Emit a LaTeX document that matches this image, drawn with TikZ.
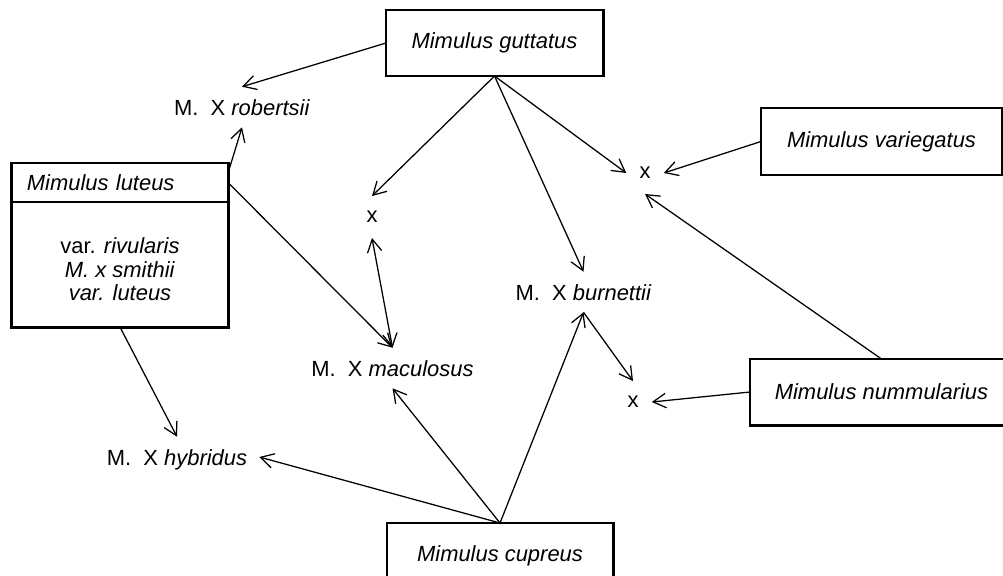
\documentclass[tikz,border=0pt]{standalone}
\usepackage{fontspec}
\setmainfont{Liberation Sans}
\usetikzlibrary{positioning,arrows.meta}

\begin{document}
\begin{tikzpicture}[x=0.025cm, y=-0.025cm, auto,
                    font=\fontsize{15.6}{16.7}\selectfont,
                    laji/.style={draw, rectangle, line width=2.1pt, inner sep=0pt, outer sep=0pt},
                    hybridi/.style={inner xsep=0.3cm, inner ysep=0.3cm, text height=0.4cm, text depth=0pt},
                    risti/.style={inner xsep=0.325cm, inner ysep=0.375cm, text height=0.285cm, text depth=0pt},
                    karki/.tip={Straight Barb[length=3.2mm,width=3.6mm]},
                    nuoli/.style={line width=0.9pt, -karki}]

\clip (0,0) rectangle (1003,575);

\node[laji, minimum width=5.425cm, minimum height=1.65cm] (gut) at (494.5,43) {\textit{Mimulus guttatus}};
\node[laji, minimum width=6.025cm, minimum height=1.675cm] (var) at (881.5,141.5) {\textit{Mimulus variegatus}};
\node[laji, minimum width=6.575cm, minimum height=1.65cm] (num) at (881.5,392) {\textit{Mimulus nummularius}};
\node[laji, minimum width=5.65cm, minimum height=1.65cm] (cup) at (500,556) {\textit{Mimulus cupreus}};
\node[laji, minimum width=5.4cm, minimum height=0.975cm, text width=4.65cm, align=left] (lutT) at (120,182.5) {\textit{Mimulus luteus}};
\node[laji, minimum width=5.4cm, minimum height=3.125cm, align=center] (lutB) [below=0pt of lutT]
      {\rule{0pt}{0.65cm}var. \textit{rivularis}\\ \textit{M. x smithii}\\ \textit{var. luteus}};

\node[hybridi] (rob) at (242,107) {M.\ \ X \textit{robertsii}};
\node[hybridi] (mac) at (392.5,368) {M.\ \ X \textit{maculosus}};
\node[hybridi] (bur) at (583.5,292) {M.\ \ X \textit{burnettii}};
\node[hybridi] (hyb) at (177,457) {M.\ \ X \textit{hybridus}};
\node[risti] (x1) at (372,217) {x};
\node[risti] (x2) at (645,173) {x};
\node[risti] (x3) at (633,402) {x};

 \path[nuoli]
    (gut.west) edge (rob.north)
    (lutT.5) edge (rob.south)
    (lutT.east) edge (mac.north)
    (gut.south) edge (x1.north)
    (gut.south) edge (bur.north)
    (gut.south) edge (x2.west)
    (var.west) edge (x2.east)
    (num.north) edge (x2.south)
    (lutB.south) edge (hyb.north)
    (cup.north) edge (hyb.east)
    (cup.north) edge (mac.south)
    (cup.north) edge (bur.south)
    (bur.south) edge (x3.north)
    (num.west) edge (x3.east);
 \draw[line width=0.9pt, karki-karki] (mac.north) -- (x1.south);
\end{tikzpicture}
\end{document}
